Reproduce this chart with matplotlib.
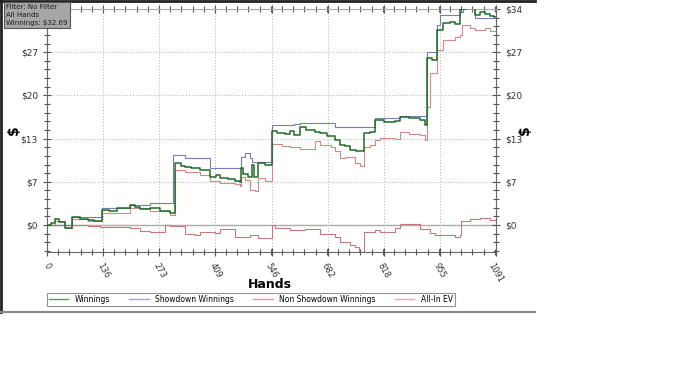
import numpy as np
import matplotlib.pyplot as plt
from matplotlib.lines import Line2D
from matplotlib.ticker import AutoMinorLocator

# hand number / value pairs (step lines)
win_h = [0, 10, 19, 30, 44, 55, 61, 80, 100, 115, 134, 150, 170, 202, 215, 226, 250, 275, 299,
         311, 325, 335, 350, 372, 396, 410, 420, 440, 457, 469, 471, 476, 488, 498, 503, 513, 530,
         547, 560, 578, 590, 600, 615, 630, 651, 663, 680, 700, 712, 724, 736, 750, 770, 785,
         797, 820, 846, 858, 880, 906, 919, 923, 935, 948, 962, 980, 992, 1004, 1020, 1040,
         1052, 1064, 1077, 1085, 1091]
win_v = [0, 0.3, 0.9, 0.4, -0.4, -0.5, 1.3, 1.0, 0.8, 0.6, 2.4, 2.2, 2.6, 3.1, 2.8, 2.5, 2.7, 2.2, 1.9,
         9.8, 9.3, 9.1, 8.9, 8.6, 7.6, 7.9, 7.4, 7.2, 7.0, 6.8, 9.0, 8.0, 7.5, 9.4, 7.6, 9.8, 9.5,
         14.8, 14.5, 14.3, 14.8, 14.2, 15.4, 14.9, 14.7, 14.5, 14.0, 13.4, 12.6, 12.4, 11.8, 11.6, 14.5, 14.6,
         16.5, 16.2, 16.4, 17.0, 16.8, 16.5, 15.7, 26.3, 26.0, 30.7, 31.8, 31.9, 31.7, 34.0, 34.2, 33.0,
         33.6, 33.2, 32.9, 32.69, 32.69]

sd_h = [0, 61, 134, 202, 250, 306, 335, 391, 396, 469, 471, 481, 493, 498, 547, 600, 615, 695,
        700, 797, 858, 921, 923, 948, 955, 1004, 1010, 1040, 1091]
sd_v = [0, 1.3, 2.7, 3.1, 3.5, 11.0, 10.5, 10.5, 9.0, 9.0, 10.7, 11.3, 10.5, 9.9, 15.7, 15.9, 16.0, 16.0,
        15.4, 16.8, 17.2, 17.2, 27.3, 31.5, 33.1, 33.5, 34.1, 32.6, 32.6]

nsd_h = [0, 61, 100, 129, 202, 226, 250, 287, 299, 335, 360, 372, 408, 420, 457, 493, 513,
         547, 554, 591, 627, 663, 700, 712, 736, 748, 758, 770, 797, 809, 846, 858, 906, 930,
         943, 992, 1004, 1006, 1028, 1052, 1077, 1091]
nsd_v = [0, 0, -0.1, -0.3, -0.5, -0.9, -1.1, 0.0, -0.2, -1.4, -1.6, -1.1, -1.2, -0.6, -1.9, -1.6, -2.1,
         0.0, -0.4, -0.8, -0.7, -1.4, -1.9, -2.7, -3.1, -3.5, -4.2, -1.1, -0.8, -1.1, -0.5, 0.2, -0.6, -1.3,
         -1.6, -1.9, -1.6, 0.6, 0.9, 1.1, 0.8, 1.3]

ev_h = [0, 19, 44, 61, 100, 134, 202, 250, 299, 311, 335, 372, 396, 420, 457, 469, 471, 481,
        493, 505, 513, 530, 547, 570, 591, 615, 651, 663, 690, 700, 712, 724, 748, 761, 770,
        785, 797, 809, 846, 858, 880, 906, 919, 923, 930, 948, 962, 992, 1004, 1008, 1028,
        1040, 1064, 1077, 1091]
ev_v = [0, 0.6, -0.5, 1.0, 0.6, 1.9, 2.6, 2.2, 1.5, 8.7, 8.3, 7.9, 6.9, 6.6, 6.4, 6.1, 7.6, 7.1,
        5.5, 5.3, 7.4, 7.0, 12.8, 12.5, 12.3, 12.0, 13.2, 12.6, 12.3, 11.7, 10.5, 10.7, 9.8, 9.3, 12.3,
        12.6, 13.4, 13.7, 13.6, 14.6, 14.4, 14.2, 13.4, 18.6, 23.9, 27.6, 29.1, 29.6, 29.9, 31.5, 31.0,
        30.7, 31.0, 30.6, 30.7]

x_ticks = [0, 136, 273, 409, 546, 682, 818, 955, 1091]
y_ticks = [0, 6.8, 13.6, 20.4, 27.2, 34]
y_labels = ['$0', '$7', '$13', '$20', '$27', '$34']

fig = plt.figure(figsize=(7, 3.74), dpi=100)
ax = fig.add_axes([47 / 700, 1 - 252 / 374, 449 / 700, 243 / 374])

ax.axhline(0, color='#a8a8a8', lw=1, zorder=1)
ax.plot(nsd_h, nsd_v, drawstyle='steps-post', color='#c47a7a', lw=0.8, label='Non Showdown Winnings', zorder=2)
ax.plot(ev_h, ev_v, drawstyle='steps-post', color='#d08a8a', lw=0.8, label='All-In EV', zorder=2)
ax.plot(sd_h, sd_v, drawstyle='steps-post', color='#7b7bb5', lw=0.8, label='Showdown Winnings', zorder=3)
ax.plot(win_h, win_v, drawstyle='steps-post', color='#1e6b28', lw=1.1, label='Winnings', zorder=4)

ax.set_xlim(0, 1091)
ax.set_ylim(-4.25, 34)
ax.set_xticks(x_ticks)
ax.set_xticklabels([str(t) for t in x_ticks], rotation=-60, ha='center', va='top', fontsize=6, color='#333333')
ax.set_yticks(y_ticks)
ax.set_yticklabels(y_labels, fontsize=6.5, color='#333333')
ax.xaxis.set_minor_locator(AutoMinorLocator(5))
ax.yaxis.set_minor_locator(AutoMinorLocator(5))
ax.tick_params(which='both', direction='inout', top=True, right=True, labelright=True,
               color='#555555', width=0.8)
ax.tick_params(which='major', length=6)
ax.tick_params(which='minor', length=4)
ax.grid(True, which='major', linestyle=':', color='#bbbbbb', lw=0.8)
for s in ax.spines.values():
    s.set_color('#666666')
    s.set_linewidth(0.8)
ax.spines['top'].set_color('#aaaaaa')

# axis titles placed like the original
fig.text(270 / 700, 1 - 285 / 374, 'Hands', fontsize=9, fontweight='bold', ha='center', va='center')
fig.text(14 / 700, 1 - 130 / 374, '$', fontsize=10, fontweight='bold', rotation=90,
         ha='center', va='center')
fig.text(525 / 700, 1 - 130 / 374, '$', fontsize=10, fontweight='bold', rotation=90,
         ha='center', va='center')

handles, labels = ax.get_legend_handles_labels()
order = [3, 2, 0, 1]
leg = fig.legend([handles[i] for i in order], [labels[i] for i in order], ncol=4,
                 loc='lower left', bbox_to_anchor=(47 / 700, 1 - 306 / 374, 408 / 700, 12 / 374),
                 mode='expand', fontsize=5.5, frameon=True, fancybox=False, borderpad=0.25,
                 handlelength=2.5, handletextpad=0.9, borderaxespad=0)
leg.get_frame().set_edgecolor('#777777')
leg.get_frame().set_linewidth(0.8)
for ln in leg.get_lines():
    ln.set_alpha(0.7)
    ln.set_linewidth(1.0)

# outer frame (top, left, bottom)
fig.add_artist(Line2D([0, 535 / 700], [1 - 1 / 374, 1 - 1 / 374], color='#222222', lw=2))
fig.add_artist(Line2D([1 / 700, 1 / 700], [1 - 312 / 374, 1], color='#222222', lw=2))
fig.add_artist(Line2D([0, 535 / 700], [1 - 312 / 374, 1 - 312 / 374], color='#888888', lw=1.5))

fig.text(6 / 700, 1 - 4 / 374, 'Filter: No Filter\nAll Hands\nWinnings: $32.69', fontsize=5,
         ha='left', va='top', color='#1a1a1a', linespacing=1.35,
         bbox=dict(boxstyle='square,pad=0.3', facecolor='#a6a6a6', edgecolor='#555555', lw=0.8))

fig.savefig('out.png', dpi=100)
